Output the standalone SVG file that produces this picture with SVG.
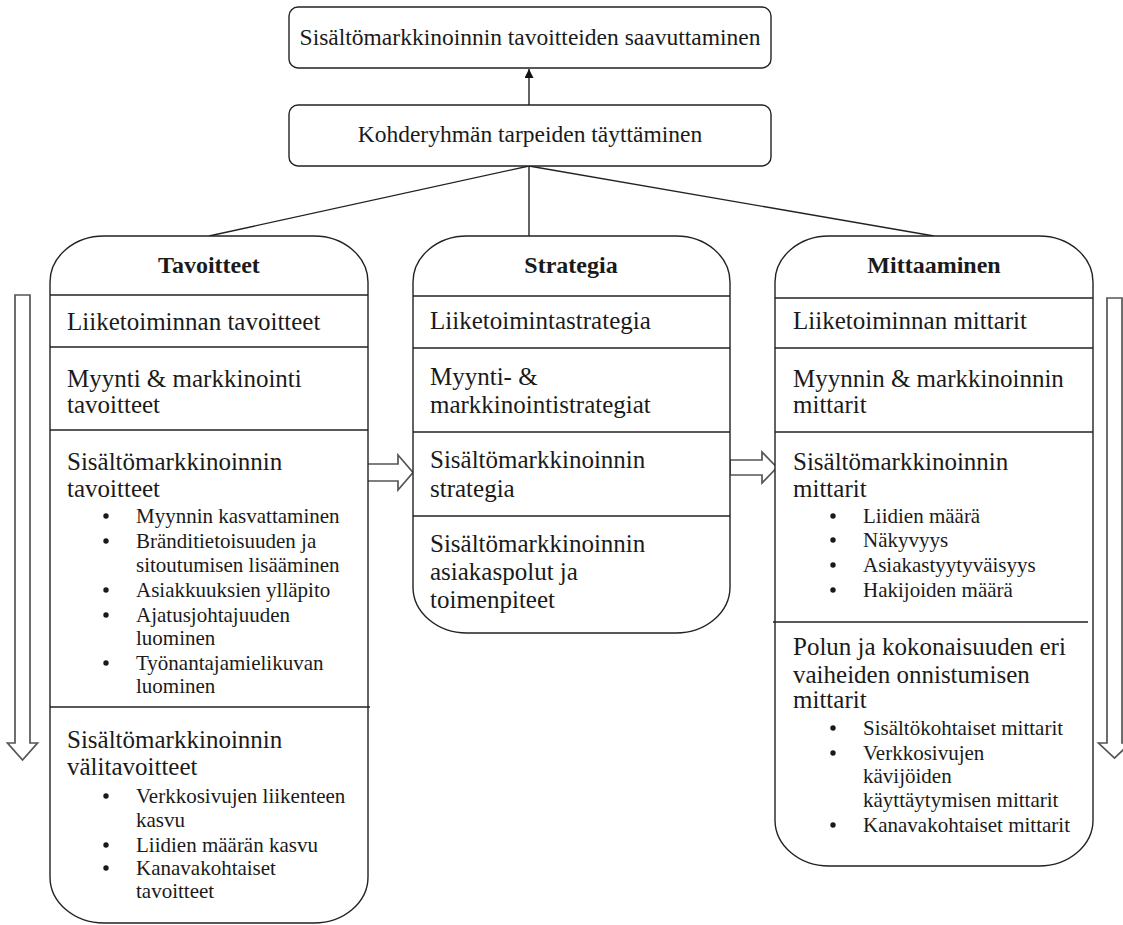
<svg xmlns="http://www.w3.org/2000/svg" width="1123" height="925" viewBox="0 0 1123 925">
<defs>
<style>
.box{fill:#fff;stroke:#222;stroke-width:1.4}
.div{stroke:#222;stroke-width:1.4}
.con{stroke:#222;stroke-width:1.4;fill:none}
.blk{fill:#fff;stroke:#555;stroke-width:1.7}
.dot{fill:#1a1a1a}
text{font-family:"Liberation Serif","Times New Roman",serif;fill:#1a1a1a}
.top{font-size:23.5px}
.hd{font-size:24px;font-weight:bold;text-anchor:middle}
.m{font-size:25px}
.b{font-size:21px}
</style>
<marker id="ah" viewBox="0 0 10 10" refX="10" refY="5" markerWidth="9" markerHeight="9" markerUnits="userSpaceOnUse" orient="auto">
<path d="M0,0 L10,5 L0,10 Z" fill="#111"/>
</marker>
</defs>
<rect width="1123" height="925" fill="#fff"/>

<g id="connectors">
<line class="con" x1="529" y1="105" x2="529" y2="69" marker-end="url(#ah)"/>
<line class="con" x1="529" y1="166" x2="209" y2="236"/>
<line class="con" x1="529" y1="166" x2="529" y2="236"/>
<line class="con" x1="529" y1="166" x2="934" y2="236"/>
<polygon class="blk" points="367,464 398,464 398,455 413,472.5 398,490 398,481 367,481"/>
<polygon class="blk" points="730,460 762,460 762,452 777,467.5 762,483 762,475 730,475"/>
<polygon class="blk" points="15,295 30,295 30,743 37.5,743 22.5,760 7.5,743 15,743"/>
<polygon class="blk" points="1107,298 1122,298 1122,743 1130.5,743 1114.5,758 1098.5,743 1107,743"/>
</g>

<g id="goal">
<rect class="box" x="289" y="7" width="482" height="61" rx="9"/>
<text class="top" x="530" y="45" text-anchor="middle">Sisältömarkkinoinnin tavoitteiden saavuttaminen</text>
</g>

<g id="needs">
<rect class="box" x="289" y="105" width="482" height="61" rx="9"/>
<text class="top" x="530" y="142" text-anchor="middle">Kohderyhmän tarpeiden täyttäminen</text>
</g>

<g id="tavoitteet">
<rect class="box" x="50" y="236" width="318" height="687" rx="54" ry="46"/>
<line class="div" x1="50" y1="295" x2="368" y2="295"/>
<line class="div" x1="50" y1="347" x2="368" y2="347"/>
<line class="div" x1="50" y1="430" x2="368" y2="430"/>
<line class="div" x1="50" y1="707" x2="370" y2="707"/>
<text class="hd" x="209" y="273">Tavoitteet</text>
<text class="m" x="67" y="330">Liiketoiminnan tavoitteet</text>
<text class="m" x="67" y="387">Myynti &amp; markkinointi</text>
<text class="m" x="67" y="413">tavoitteet</text>
<text class="m" x="67" y="470">Sisältömarkkinoinnin</text>
<text class="m" x="67" y="497">tavoitteet</text>
<circle class="dot" cx="106" cy="516" r="2.7"/><text class="b" x="136" y="523">Myynnin kasvattaminen</text>
<circle class="dot" cx="106" cy="541" r="2.7"/><text class="b" x="136" y="548">Bränditietoisuuden ja</text>
<text class="b" x="136" y="572">sitoutumisen lisääminen</text>
<circle class="dot" cx="106" cy="590" r="2.7"/><text class="b" x="136" y="597">Asiakkuuksien ylläpito</text>
<circle class="dot" cx="106" cy="615" r="2.7"/><text class="b" x="136" y="622">Ajatusjohtajuuden</text>
<text class="b" x="136" y="645">luominen</text>
<circle class="dot" cx="106" cy="663" r="2.7"/><text class="b" x="136" y="670">Työnantajamielikuvan</text>
<text class="b" x="136" y="693">luominen</text>
<text class="m" x="67" y="748">Sisältömarkkinoinnin</text>
<text class="m" x="67" y="775">välitavoitteet</text>
<circle class="dot" cx="106" cy="796" r="2.7"/><text class="b" x="136" y="803">Verkkosivujen liikenteen</text>
<text class="b" x="136" y="827">kasvu</text>
<circle class="dot" cx="106" cy="845" r="2.7"/><text class="b" x="136" y="852">Liidien määrän kasvu</text>
<circle class="dot" cx="106" cy="868" r="2.7"/><text class="b" x="136" y="875">Kanavakohtaiset</text>
<text class="b" x="136" y="898">tavoitteet</text>
</g>

<g id="strategia">
<rect class="box" x="413" y="236" width="317" height="397" rx="54" ry="46"/>
<line class="div" x1="413" y1="296" x2="730" y2="296"/>
<line class="div" x1="413" y1="348" x2="730" y2="348"/>
<line class="div" x1="413" y1="432" x2="730" y2="432"/>
<line class="div" x1="413" y1="516" x2="730" y2="516"/>
<text class="hd" x="571" y="273">Strategia</text>
<text class="m" x="430" y="329">Liiketoimintastrategia</text>
<text class="m" x="430" y="385">Myynti- &amp;</text>
<text class="m" x="430" y="413">markkinointistrategiat</text>
<text class="m" x="430" y="468">Sisältömarkkinoinnin</text>
<text class="m" x="430" y="497">strategia</text>
<text class="m" x="430" y="552">Sisältömarkkinoinnin</text>
<text class="m" x="430" y="580">asiakaspolut ja</text>
<text class="m" x="430" y="608">toimenpiteet</text>
</g>

<g id="mittaaminen">
<rect class="box" x="775" y="236" width="318" height="630" rx="54" ry="46"/>
<line class="div" x1="775" y1="298" x2="1093" y2="298"/>
<line class="div" x1="775" y1="348" x2="1093" y2="348"/>
<line class="div" x1="775" y1="432" x2="1093" y2="432"/>
<line class="div" x1="773" y1="622" x2="1088" y2="622"/>
<text class="hd" x="934" y="273">Mittaaminen</text>
<text class="m" x="793" y="329">Liiketoiminnan mittarit</text>
<text class="m" x="793" y="387">Myynnin &amp; markkinoinnin</text>
<text class="m" x="793" y="413">mittarit</text>
<text class="m" x="793" y="470">Sisältömarkkinoinnin</text>
<text class="m" x="793" y="497">mittarit</text>
<circle class="dot" cx="833" cy="516" r="2.7"/><text class="b" x="863" y="523">Liidien määrä</text>
<circle class="dot" cx="833" cy="540" r="2.7"/><text class="b" x="863" y="547">Näkyvyys</text>
<circle class="dot" cx="833" cy="565" r="2.7"/><text class="b" x="863" y="572">Asiakastyytyväisyys</text>
<circle class="dot" cx="833" cy="590" r="2.7"/><text class="b" x="863" y="597">Hakijoiden määrä</text>
<text class="m" x="793" y="655">Polun ja kokonaisuuden eri</text>
<text class="m" x="793" y="683">vaiheiden onnistumisen</text>
<text class="m" x="793" y="708">mittarit</text>
<circle class="dot" cx="833" cy="728" r="2.7"/><text class="b" x="863" y="735">Sisältökohtaiset mittarit</text>
<circle class="dot" cx="833" cy="753" r="2.7"/><text class="b" x="863" y="760">Verkkosivujen</text>
<text class="b" x="863" y="783">kävijöiden</text>
<text class="b" x="863" y="807">käyttäytymisen mittarit</text>
<circle class="dot" cx="833" cy="825" r="2.7"/><text class="b" x="863" y="832">Kanavakohtaiset mittarit</text>
</g>
</svg>
